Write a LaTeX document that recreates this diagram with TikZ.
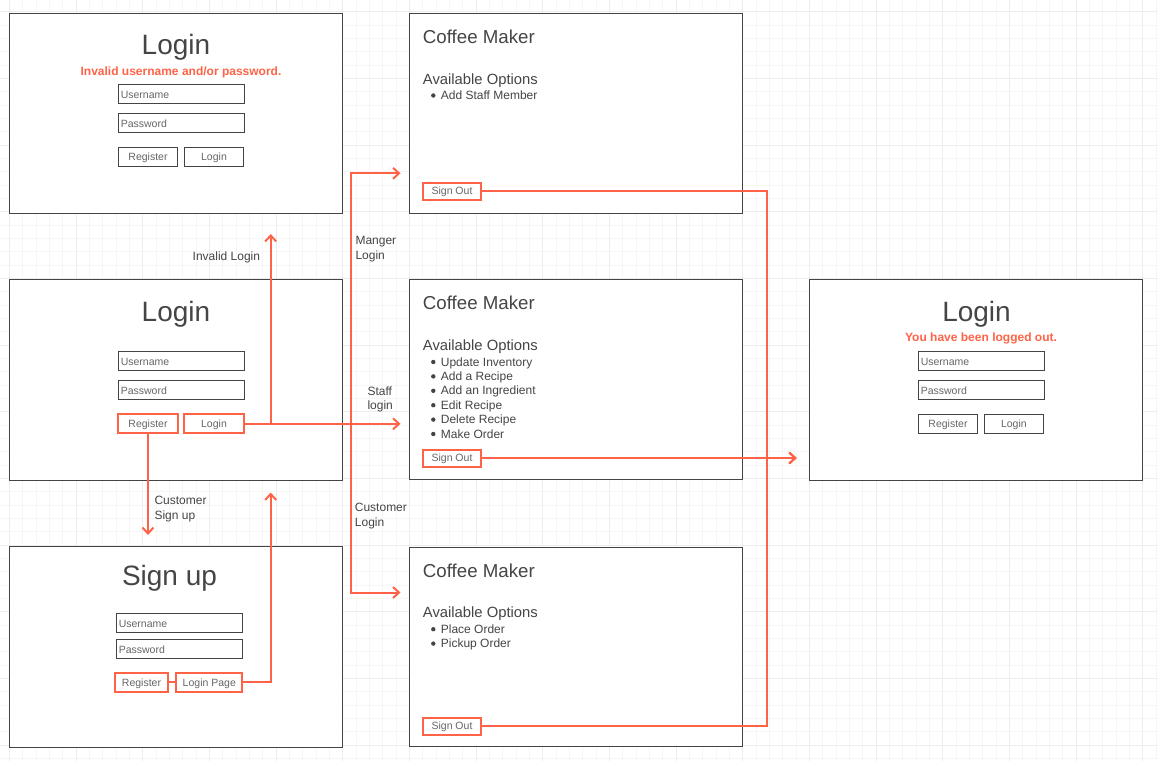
\documentclass[tikz,border=0pt]{standalone}
\usepackage{fontspec}
\setmainfont{Liberation Sans}
\usepackage{tikz}
\usetikzlibrary{arrows.meta}
\usepackage{xcolor}
\definecolor{edge}{HTML}{444444}
\definecolor{flowc}{HTML}{FF6347}
\definecolor{inktxt}{HTML}{454545}
\definecolor{fieldtxt}{HTML}{666666}
\definecolor{gridmin}{HTML}{F6F6F6}
\definecolor{gridmaj}{HTML}{EDEDED}

\tikzset{
  screen/.style={draw=edge, fill=white, line width=1pt, anchor=north west, minimum width=333pt, minimum height=200pt, inner sep=0pt},
  field/.style={draw=edge, line width=1pt, anchor=north west, text width=121.4pt, inner xsep=2pt, inner ysep=0pt, minimum height=19pt, text height=7.6pt, text depth=0pt, align=left, text=fieldtxt, font=\fontsize{10.5}{12}\selectfont},
  button/.style={draw=edge, line width=1pt, minimum width=59.4pt, minimum height=19pt, inner sep=0pt, text height=7.6pt, text depth=0pt, text=fieldtxt, font=\fontsize{10.5}{12}\selectfont},
  redbutton/.style={button, draw=flowc, line width=2pt},
  scrtitle/.style={text=inktxt, inner sep=0pt, anchor=base, font=\fontsize{28}{32}\selectfont},
  msg/.style={text=flowc, inner sep=0pt, anchor=base, font=\bfseries\fontsize{12}{14}\selectfont},
  cmhead/.style={text=inktxt, inner sep=0pt, anchor=base west, font=\fontsize{18.7}{22}\selectfont},
  cmsub/.style={text=inktxt, inner sep=0pt, anchor=base west, font=\fontsize{14.8}{17}\selectfont},
  cmitem/.style={text=inktxt, inner sep=0pt, anchor=base west, font=\fontsize{12}{14}\selectfont},
  lbl/.style={text=inktxt, inner sep=0pt, align=left, anchor=west, font=\fontsize{12}{14.5}\selectfont},
  flow/.style={draw=flowc, line width=2pt, -{Straight Barb[length=6pt,width=11pt]}},
  link/.style={draw=flowc, line width=2pt},
}

\begin{document}
\begin{tikzpicture}[x=1pt,y=-1pt]
  \useasboundingbox (0,0) rectangle (1158,761);
  \fill[white] (0,0) rectangle (1158,761);

  %%%%%%% GRID
  \foreach \i in {0,...,86} \draw[gridmin, line width=0.7pt] ({9.333+13.333*\i},0) -- ({9.333+13.333*\i},761);
  \foreach \j in {0,...,56} \draw[gridmin, line width=0.7pt] (0,{11.667+13.333*\j}) -- (1158,{11.667+13.333*\j});
  \foreach \i in {0,...,17} \draw[gridmaj, line width=0.7pt] ({9.333+66.667*\i},0) -- ({9.333+66.667*\i},761);
  \foreach \j in {0,...,11} \draw[gridmaj, line width=0.7pt] (0,{11.667+66.667*\j}) -- (1158,{11.667+66.667*\j});

  %%%%%%% SCREENS
  \node[screen] (scrInvalid) at (9.3,13.3) {};
  \node[screen, minimum height=201pt] (scrLogin) at (9.3,279.3) {};
  \node[screen, minimum height=201.3pt] (scrSignup) at (9.3,546) {};
  \node[screen] (scrManager) at (409.3,13.3) {};
  \node[screen] (scrStaff) at (409.3,279.3) {};
  \node[screen, minimum height=199.3pt] (scrCustomer) at (409.3,546.7) {};
  \node[screen, minimum height=201pt] (scrOut) at (809.3,279.3) {};

  %%%%%%% INVALID LOGIN
  \node[scrtitle] (tInvalid) at (176,54) {Login};
  \node[msg] (mInvalid) at (181,75) {Invalid username and/or password.};
  \node[field] (fUserA) at (118.3,84.3) {Username};
  \node[field] (fPassA) at (118.3,113.3) {Password};
  \node[button] (btnRegA) at (148,156.7) {Register};
  \node[button] (btnLogA) at (214,156.7) {Login};

  %%%%%%% LOGIN
  \node[scrtitle] (tLogin) at (176,321.5) {Login};
  \node[field] (fUserB) at (118.3,351.3) {Username};
  \node[field] (fPassB) at (118.3,380.3) {Password};
  \node[redbutton] (btnRegister) at (148,423.8) {Register};
  \node[redbutton] (btnLogin) at (214,423.8) {Login};

  %%%%%%% SIGN UP
  \node[scrtitle] (tSignup) at (169.5,585) {Sign up};
  \node[field] (fUserD) at (116.3,613.3) {Username};
  \node[field] (fPassD) at (116.3,639.3) {Password};
  \node[redbutton, minimum width=53.6pt] (btnSuRegister) at (141.5,682.3) {Register};
  \node[redbutton, minimum width=66pt] (btnSuPage) at (209.3,682.3) {Login Page};

  %%%%%%% LOGGED OUT
  \node[scrtitle] (tOut) at (976.5,321) {Login};
  \node[msg] (mOut) at (981,341.7) {You have been logged out.};
  \node[field] (fUserF) at (918.3,351.3) {Username};
  \node[field] (fPassF) at (918.3,380.3) {Password};
  \node[button] (btnRegF) at (948,424) {Register};
  \node[button] (btnLogF) at (1013.9,424) {Login};

  %%%%%%% MANAGER
  \node[cmhead] (hManager) at (422.7,43.5) {Coffee Maker};
  \node[cmsub] (sManager) at (422.7,84) {Available Options};
  \fill[inktxt] (433.3,95.5) circle (2.2pt);
  \node[cmitem] (iStaffMember) at (440.7,99.5) {Add Staff Member};
  \node[redbutton, minimum width=58.6pt, minimum height=17pt] (outManager) at (452,191) {Sign Out};

  %%%%%%% STAFF
  \node[cmhead] (hStaff) at (422.7,309.5) {Coffee Maker};
  \node[cmsub] (sStaff) at (422.7,350) {Available Options};
  \fill[inktxt] (433.3,362) circle (2.2pt);
  \node[cmitem] (iInventory) at (440.7,366) {Update Inventory};
  \fill[inktxt] (433.3,376.4) circle (2.2pt);
  \node[cmitem] (iAddRecipe) at (440.7,380.4) {Add a Recipe};
  \fill[inktxt] (433.3,390.8) circle (2.2pt);
  \node[cmitem] (iIngredient) at (440.7,394.8) {Add an Ingredient};
  \fill[inktxt] (433.3,405.2) circle (2.2pt);
  \node[cmitem] (iEditRecipe) at (440.7,409.2) {Edit Recipe};
  \fill[inktxt] (433.3,419.6) circle (2.2pt);
  \node[cmitem] (iDelRecipe) at (440.7,423.6) {Delete Recipe};
  \fill[inktxt] (433.3,434) circle (2.2pt);
  \node[cmitem] (iMakeOrder) at (440.7,438) {Make Order};
  \node[redbutton, minimum width=58.6pt, minimum height=17pt] (outStaff) at (452,458) {Sign Out};

  %%%%%%% CUSTOMER
  \node[cmhead] (hCustomer) at (422.7,577) {Coffee Maker};
  \node[cmsub] (sCustomer) at (422.7,617.4) {Available Options};
  \fill[inktxt] (433.3,629.2) circle (2.2pt);
  \node[cmitem] (iPlace) at (440.7,633.2) {Place Order};
  \fill[inktxt] (433.3,643.6) circle (2.2pt);
  \node[cmitem] (iPickup) at (440.7,647.6) {Pickup Order};
  \node[redbutton, minimum width=58.6pt, minimum height=17pt] (outCustomer) at (452,726) {Sign Out};

  %%%%%%% FLOWS
  \coordinate (bus) at (350.7,0);
  \coordinate (rail) at (767,0);
  \coordinate (invTip) at (270.7,234);
  \coordinate (manTip) at (400.5,173.3);
  \coordinate (staffTip) at (400.5,423.8);
  \coordinate (custTip) at (400.5,592.5);
  \coordinate (suTip) at (148,535);
  \coordinate (backTip) at (270.7,492.5);
  \coordinate (outTip) at (796.7,458);

  \draw[flow] (btnLogin.east) -| (invTip);
  \draw[flow] (btnLogin.east) -| (bus |- manTip) -- (manTip);
  \draw[flow] (btnLogin.east) -- (staffTip);
  \draw[flow] (btnLogin.east) -| (bus |- custTip) -- (custTip);
  \draw[flow] (btnRegister.south) -- (suTip);
  \draw[link] (btnSuRegister) -- (btnSuPage);
  \draw[flow] (btnSuPage.east) -| (backTip);
  \draw[flow] (outManager.east) -| (rail |- outTip) -- (outTip);
  \draw[flow] (outStaff.east) -- (outTip);
  \draw[flow] (outCustomer.east) -| (rail |- outTip) -- (outTip);

  %%%%%%% LABELS
  \node[lbl, anchor=base east] (lInvalid) at (260.3,260) {Invalid Login};
  \node[lbl] (lManager) at (355.3,249) {Manger\\Login};
  \node[lbl] (lStaff) at (367.3,399.2) {Staff\\login};
  \node[lbl] (lCustomer) at (354.7,516) {Customer\\Login};
  \node[lbl] (lSignup) at (154.3,509.2) {Customer\\Sign up};
\end{tikzpicture}
\end{document}
